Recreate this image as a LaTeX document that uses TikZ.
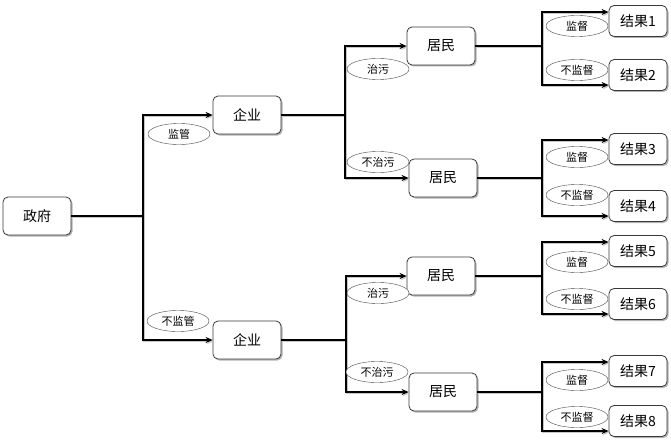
\documentclass[tikz,border=0pt]{standalone}
\usepackage{fontspec}
\setmainfont{Noto Sans CJK SC}
\usetikzlibrary{arrows.meta, shapes.geometric, shadows}

\begin{document}
\begin{tikzpicture}[x=1pt, y=-1pt, >={Stealth[length=7pt, width=6pt]},
  box/.style={draw=gray!45!black, line width=0.8pt, rounded corners=5pt, fill=white,
    minimum width=68pt, minimum height=38pt, font=\fontsize{14}{16}\selectfont,
    drop shadow={shadow xshift=1.5pt, shadow yshift=-1.5pt, opacity=0.6}},
  endbox/.style={box, minimum width=58pt, minimum height=31pt},
  tag/.style={draw=gray!55!black, ellipse, fill=white, minimum width=62pt, minimum height=21pt,
    inner sep=0pt, font=\fontsize{11}{12}\selectfont},
  link/.style={line width=1.7pt,
    preaction={draw=gray!45, line width=2.2pt, transform canvas={shift={(1.2pt,-1.2pt)}}}}]
  \useasboundingbox (0,0) rectangle (671,441);

  % players
  \node[box] (gov) at (37,216) {政府};
  \node[box] (firm1) at (247,115) {企业};
  \node[box] (firm2) at (247,340) {企业};
  \node[box] (res1) at (441,46) {居民};
  \node[box] (res2) at (443,178) {居民};
  \node[box] (res3) at (441,276) {居民};
  \node[box] (res4) at (443,392) {居民};
  \node[endbox] (out1) at (638,21) {结果1};
  \node[endbox] (out2) at (638,75) {结果2};
  \node[endbox] (out3) at (638,149) {结果3};
  \node[endbox] (out4) at (638,206) {结果4};
  \node[endbox] (out5) at (638,251) {结果5};
  \node[endbox] (out6) at (638,304) {结果6};
  \node[endbox] (out7) at (638,371) {结果7};
  \node[endbox] (out8) at (638,421) {结果8};

  % branch points
  \coordinate (g0) at (143,216);
  \coordinate (f1) at (345,115);
  \coordinate (f2) at (346,340);
  \coordinate (rx) at (542,0);

  \draw[link] (gov) -- (g0);
  \draw[link, ->] (g0) |- (firm1);
  \draw[link, ->] (g0) |- (firm2);
  \draw[link] (firm1) -- (f1);
  \draw[link, ->] (f1) |- (res1);
  \draw[link, ->] (f1) |- (res2);
  \draw[link] (firm2) -- (f2);
  \draw[link, ->] (f2) |- (res3);
  \draw[link, ->] (f2) |- (res4);
  \foreach \r/\a/\b in {res1/out1/out2, res2/out3/out4, res3/out5/out6, res4/out7/out8} {
    \draw[link] (\r.east) -- (\r.east -| rx);
    \draw[link, ->] (\r.east -| rx) |- ([yshift=9pt]\a.west);
    \draw[link, ->] (\r.east -| rx) |- ([yshift=-10pt]\b.west);
  }

  % choices
  \node[tag] (gy) at (179,134) {监管};
  \node[tag] (gn) at (178,321) {不监管};
  \node[tag] (fy1) at (378,69) {治污};
  \node[tag] (fn1) at (378,162) {不治污};
  \node[tag] (fy2) at (378,293) {治污};
  \node[tag] (fn2) at (377,372) {不治污};
  \foreach \i/\ya/\yb in {1/26/70, 2/157/195, 3/262/299, 4/380/417} {
    \node[tag] (ry\i) at (577,\ya) {监督};
    \node[tag] (rn\i) at (577,\yb) {不监督};
  }
\end{tikzpicture}
\end{document}
